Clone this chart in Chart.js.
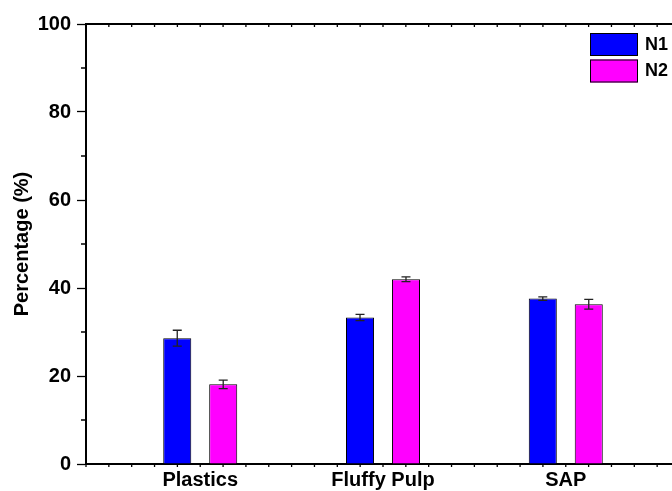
<!DOCTYPE html>
<html>
<head>
<meta charset="utf-8">
<script src="https://cdn.jsdelivr.net/npm/chart.js@4"></script>
<style>
  html, body { margin: 0; padding: 0; background: #fff; overflow: hidden; }
  canvas { display: block; }
</style>
</head>
<body>
<canvas id="myChart" width="690" height="491"></canvas>
<script>
// dane z wykresu
const categories = ['Plastics', 'Fluffy Pulp', 'SAP'];
const seriesNames = ['N1', 'N2'];
const n1Values = [28.6, 33.3, 37.6];
const n2Values = [18.1, 42.0, 36.3];
const n1Errors = [1.8, 0.7, 0.4];
const n2Errors = [0.95, 0.55, 1.1];
const yTicks = [0, 20, 40, 60, 80, 100];
const yMinorTicks = [10, 30, 50, 70, 90];

Chart.defaults.font.family = "'Liberation Sans', Arial, sans-serif";
Chart.defaults.color = '#000';

const xMin = 0.375, xMax = 3.625;

// error bars + minor ticks + legend
const extras = {
    id: 'extras',
    afterDatasetsDraw(chart) {
        const ctx = chart.ctx;
        const yScale = chart.scales.y;
        const errs = [n1Errors, n2Errors];
        ctx.save();
        ctx.strokeStyle = '#222';
        ctx.lineWidth = 1.3;
        chart.data.datasets.forEach((ds, di) => {
            const meta = chart.getDatasetMeta(di);
            meta.data.forEach((bar, i) => {
                const v = ds.data[i].y;
                const e = errs[di][i];
                const yTop = yScale.getPixelForValue(v + e);
                const yBot = yScale.getPixelForValue(v - e);
                ctx.beginPath();
                ctx.moveTo(bar.x, yTop); ctx.lineTo(bar.x, yBot);
                ctx.moveTo(bar.x - 4.5, yTop); ctx.lineTo(bar.x + 4.5, yTop);
                ctx.moveTo(bar.x - 4.5, yBot); ctx.lineTo(bar.x + 4.5, yBot);
                ctx.stroke();
            });
        });
        ctx.restore();
    },
    afterDraw(chart) {
        const ctx = chart.ctx;
        const area = chart.chartArea;
        const xs = chart.scales.x;
        const ys = chart.scales.y;
        ctx.save();
        ctx.strokeStyle = '#000';
        ctx.lineWidth = 1.3;
        ctx.beginPath();
        // minor ticks na osi y
        yMinorTicks.forEach(v => {
            const py = ys.getPixelForValue(v);
            ctx.moveTo(area.left - 5, py); ctx.lineTo(area.left, py);
        });
        // drobne ticki na osi x (dol i gora)
        for (let v = xMin; v <= xMax + 1e-9; v += 0.125) {
            const px = xs.getPixelForValue(v);
            ctx.moveTo(px, area.bottom); ctx.lineTo(px, area.bottom + 3);
            ctx.moveTo(px, area.top); ctx.lineTo(px, area.top + 3);
        }
        ctx.stroke();

        // legenda
        const bx = area.right - 90, by = area.top + 9;
        ctx.font = "bold 18px 'Liberation Sans', Arial, sans-serif";
        ctx.textBaseline = 'middle';
        ctx.textAlign = 'left';
        chart.data.datasets.forEach((ds, di) => {
            const y0 = by + di * 26.5;
            ctx.fillStyle = ds.backgroundColor;
            ctx.fillRect(bx, y0, 48, 23);
            ctx.lineWidth = 1;
            ctx.strokeStyle = '#000';
            ctx.strokeRect(bx + 0.5, y0 + 0.5, 47, 22);
            ctx.fillStyle = '#000';
            ctx.fillText(ds.label, bx + 55, y0 + 12);
        });
        ctx.restore();
    }
};

const ctx = document.getElementById('myChart').getContext('2d');
const myChart = new Chart(ctx, {
    type: 'bar',
    data: {
        datasets: [{
            label: seriesNames[0],
            data: categories.map((c, i) => ({ x: i + 1, y: n1Values[i] })),
            backgroundColor: '#0000ff',
            borderColor: '#000',
            borderWidth: 1,
            categoryPercentage: 0.503,
            barPercentage: 0.61
        }, {
            label: seriesNames[1],
            data: categories.map((c, i) => ({ x: i + 1, y: n2Values[i] })),
            backgroundColor: '#ff00ff',
            borderColor: '#000',
            borderWidth: 1,
            categoryPercentage: 0.503,
            barPercentage: 0.61
        }]
    },
    options: {
        responsive: false,
        animation: false,
        layout: { padding: { left: 0, right: 10, top: 0, bottom: 0 } },
        plugins: {
            legend: { display: false },
            tooltip: { enabled: false }
        },
        scales: {
            x: {
                type: 'linear',
                position: 'bottom',
                offset: false,
                min: xMin,
                max: xMax,
                afterBuildTicks: (scale) => {
                    scale.ticks = categories.map((c, i) => ({ value: i + 1 }));
                },
                afterFit: (scale) => { scale.height = 27; },
                ticks: {
                    callback: (v) => categories[Math.round(v) - 1] || '',
                    font: { size: 20, weight: 'bold' },
                    color: '#000',
                    padding: 4,
                    maxRotation: 0,
                    autoSkip: false
                },
                grid: { drawOnChartArea: false, drawTicks: false, offset: false },
                border: { display: true, color: '#000', width: 2 }
            },
            x2: {
                type: 'linear',
                position: 'top',
                offset: false,
                min: xMin,
                max: xMax,
                afterFit: (scale) => { scale.height = 24; },
                ticks: { display: false },
                grid: { drawOnChartArea: false, drawTicks: false, offset: false },
                border: { display: true, color: '#000', width: 2 }
            },
            y: {
                min: 0,
                max: 100,
                afterBuildTicks: (scale) => {
                    scale.ticks = yTicks.map(v => ({ value: v }));
                },
                afterFit: (scale) => { scale.width = 86; },
                ticks: {
                    font: { size: 20, weight: 'bold' },
                    color: '#000',
                    padding: 6
                },
                grid: {
                    drawOnChartArea: false,
                    tickLength: 9,
                    tickColor: '#000',
                    tickWidth: 1.3
                },
                border: { display: true, color: '#000', width: 2 },
                title: {
                    display: true,
                    text: 'Percentage (%)',
                    font: { size: 20, weight: 'bold' },
                    color: '#000',
                    padding: { top: 10, bottom: 0 }
                }
            }
        }
    },
    plugins: [extras]
});
</script>
</body>
</html>
